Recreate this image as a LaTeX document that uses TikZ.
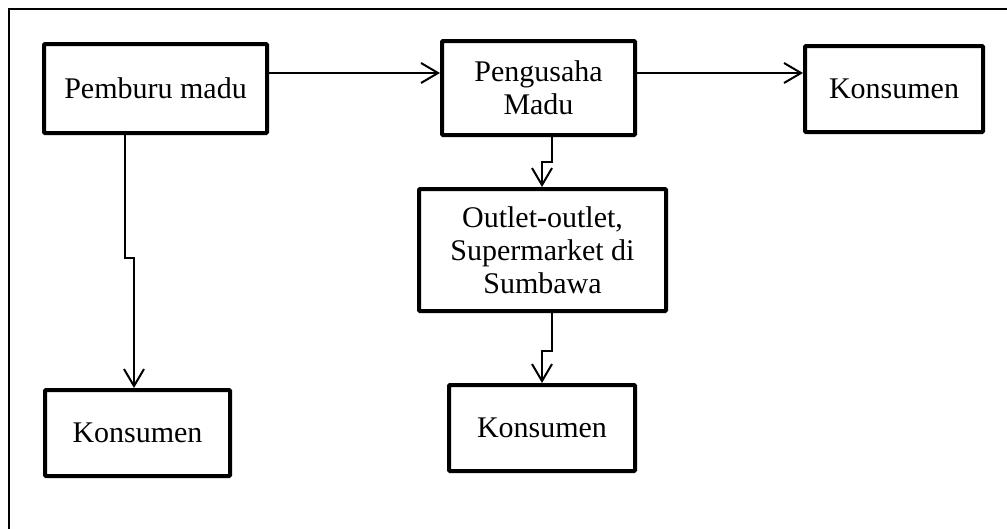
\documentclass[tikz,border=0pt]{standalone}
\usepackage{fontspec}
\setmainfont{Liberation Serif}
\usetikzlibrary{arrows.meta}
\begin{document}
\begin{tikzpicture}[x=1pt,y=-1pt,
  box/.style={draw, line width=4pt, rounded corners=1pt, inner sep=0pt, align=center,
    font=\fontsize{30}{33}\selectfont},
  conn/.style={line width=2pt},
  arr/.style={conn, -{Straight Barb[length=17pt,width=20pt,line width=2pt]}}]
\useasboundingbox (0,0) rectangle (1007,528);
\draw[line width=2pt] (9,530) -- (9,9) -- (1010,9);
\node[box, minimum width=223pt, minimum height=89pt] (pem) at (155.5,88.5) {Pemburu madu};
\node[box, minimum width=193pt, minimum height=94pt] (peng) at (538.5,88) {Pengusaha\\Madu};
\node[box, minimum width=178pt, minimum height=86pt] (kr) at (894,89) {Konsumen};
\node[box, minimum width=247pt, minimum height=122pt] (out) at (542.5,250) {Outlet-outlet,\\Supermarket di\\Sumbawa};
\node[box, minimum width=185pt, minimum height=86pt] (kl) at (137.5,433) {Konsumen};
\node[box, minimum width=186pt, minimum height=86pt] (km) at (542,428) {Konsumen};
\draw[arr] (pem.east |- 0,73) -- (peng.west |- 0,73);
\draw[arr] (peng.east |- 0,73) -- (kr.west |- 0,73);
\draw[arr] (pem.south -| 125,0) |- (134,258) -- (kl.north -| 134,0);
\draw[arr] (peng.south -| 552,0) |- (542,162) -- (out.north -| 542,0);
\draw[arr] (out.south -| 552,0) |- (542,351) -- (km.north -| 542,0);
\end{tikzpicture}
\end{document}
